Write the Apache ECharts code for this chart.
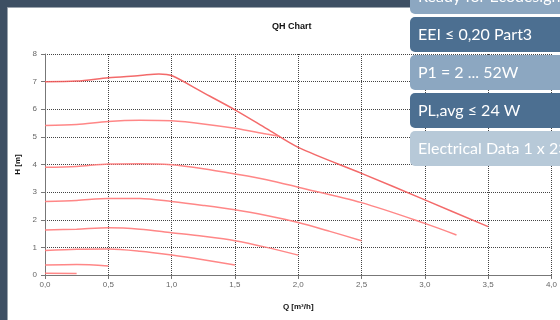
<!DOCTYPE html>
<html><head><meta charset="utf-8">
<script src="https://cdn.jsdelivr.net/npm/echarts@6/dist/echarts.min.js"></script>
<style>html,body{margin:0;padding:0;background:#fff}#c{width:560px;height:320px}</style>
</head><body><div id="c"></div>
<script>
// Q [m³/h] and H [m] values per curve
var q1 = [0, 0.25, 0.5, 0.75, 0.9, 1.0, 1.25, 1.5, 1.75, 2.0, 2.5, 3.0, 3.5];
var h1 = [7.0, 7.02, 7.14, 7.22, 7.28, 7.22, 6.6, 5.98, 5.3, 4.62, 3.68, 2.72, 1.75];
var q2 = [0, 0.25, 0.5, 0.75, 1.0, 1.25, 1.5, 1.75, 1.85];
var h2 = [5.41, 5.45, 5.56, 5.6, 5.58, 5.47, 5.31, 5.1, 5.02];
var q3 = [0, 0.25, 0.5, 0.75, 1.0, 1.25, 1.5, 1.75, 2.0, 2.5, 3.0, 3.25];
var h3 = [3.9, 3.93, 4.02, 4.03, 3.99, 3.85, 3.66, 3.45, 3.18, 2.62, 1.87, 1.45];
var q4 = [0, 0.25, 0.5, 0.75, 1.0, 1.25, 1.5, 1.75, 2.0, 2.25, 2.5];
var h4 = [2.66, 2.7, 2.77, 2.77, 2.66, 2.52, 2.36, 2.15, 1.9, 1.58, 1.24];
var q5 = [0, 0.25, 0.5, 0.75, 1.0, 1.25, 1.5, 1.75, 2.0];
var h5 = [1.63, 1.66, 1.71, 1.66, 1.53, 1.4, 1.24, 1.0, 0.72];
var q6 = [0, 0.25, 0.5, 0.75, 1.0, 1.25, 1.5];
var h6 = [0.89, 0.93, 0.94, 0.86, 0.72, 0.55, 0.36];
var q7 = [0, 0.25, 0.5];
var h7 = [0.36, 0.38, 0.33];
var q8 = [0, 0.25];
var h8 = [0.06, 0.05];
var curvesQ = [q1, q2, q3, q4, q5, q6, q7, q8];
var curvesH = [h1, h2, h3, h4, h5, h6, h7, h8];
var boxTexts = ['Ready for Ecodesign', 'EEI ≤ 0,20 Part3', 'P1 = 2 ... 52W', 'PL,avg ≤ 24 W', 'Electrical Data 1 x 230 V'];
var title = 'QH Chart';
var xName = 'Q [m³/h]';
var yName = 'H [m]';

var boxColors = ['#8ca7c1', '#4c6f91', '#8ca7c1', '#4c6f91', '#b7c9d8'];
var boxTops = [-21, 17, 55, 93, 131];

var chart = echarts.init(document.getElementById('c'));
var series = curvesQ.map(function (qs, i) {
  return {
    type: 'line', smooth: 0.3, symbol: 'none', z: 5,
    lineStyle: { color: i === 0 ? '#f25a5a' : '#ff7a7a', width: 1.5, opacity: 0.9 },
    data: qs.map(function (q, j) { return [q, curvesH[i][j]]; })
  };
});

var graphics = [
  { type: 'rect', z: -10, silent: true, shape: { x: 0, y: 0, width: 560, height: 320 }, style: { fill: '#3d4f63' } },
  { type: 'rect', z: -9, silent: true, shape: { x: 7.5, y: 7.5, width: 600, height: 400 }, style: { fill: '#ffffff', stroke: '#9aa3ad', lineWidth: 1 } }
];
boxTexts.forEach(function (t, i) {
  graphics.push({ type: 'rect', z: 100, shape: { x: 410, y: boxTops[i], width: 170, height: 35, r: 5 }, style: { fill: boxColors[i] } });
  graphics.push({ type: 'text', z: 101, x: 418, y: boxTops[i] + 18, style: { text: t, fill: '#ffffff', font: '16px Lato', textVerticalAlign: 'middle', verticalAlign: 'middle' } });
});

chart.setOption({
  animation: false,
  title: { text: title, left: 267, top: 17, textStyle: { fontFamily: 'Liberation Sans', fontSize: 9, fontWeight: 'bold', color: '#111' } },
  grid: { left: 45, right: 7, top: 54, bottom: 45 },
  xAxis: {
    type: 'value', min: 0, max: 4, interval: 0.5,
    name: xName, nameLocation: 'middle', nameGap: 28,
    nameTextStyle: { fontFamily: 'Liberation Sans', fontSize: 8, fontWeight: 'bold', color: '#111' },
    axisLine: { lineStyle: { color: '#777', width: 1 } },
    axisTick: { show: true, length: 4, lineStyle: { color: '#777' } },
    axisLabel: { fontFamily: 'Liberation Sans', fontSize: 8, color: '#666', margin: 6,
      formatter: function (v) { return v.toFixed(1).replace('.', ','); } },
    splitLine: { lineStyle: { color: '#444', type: [1, 1], width: 1 } }
  },
  yAxis: {
    type: 'value', min: 0, max: 8, interval: 1,
    name: yName, nameLocation: 'middle', nameGap: 23, nameRotate: 90,
    nameTextStyle: { fontFamily: 'Liberation Sans', fontSize: 8, fontWeight: 'bold', color: '#111' },
    axisLine: { show: true, lineStyle: { color: '#777', width: 1 } },
    axisTick: { show: true, length: 4, lineStyle: { color: '#777' } },
    axisLabel: { fontFamily: 'Liberation Sans', fontSize: 8, color: '#666', margin: 8 },
    splitLine: { lineStyle: { color: '#444', type: [1, 1], width: 1 } }
  },
  graphic: graphics,
  series: series
});
</script></body></html>
